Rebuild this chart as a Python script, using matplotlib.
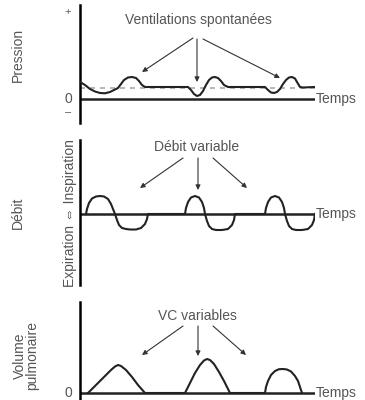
import matplotlib
matplotlib.use('Agg')
import matplotlib.pyplot as plt

plt.rcParams['font.family'] = ['Liberation Sans', 'DejaVu Sans']

# courbe de pression (temps, pression) - unites arbitraires
pression_t = [0, 5, 10, 15, 20, 25, 30, 34, 38, 41, 44, 48, 52, 56, 59, 62, 65, 70,
              108, 111, 114, 117, 120, 123, 126, 129, 132, 135, 138, 141, 144, 148, 152,
              185, 188, 191, 194, 197, 200, 203, 206, 209, 212, 215, 217, 220, 223, 235]
pression_v = [17, 14, 10, 7.5, 6, 5.7, 7, 9, 11, 15, 19, 21.5, 22, 21, 18, 14, 12, 12,
              12, 9, 5, 3, 4, 8, 14, 19, 21.5, 22, 21, 18, 14, 12, 12,
              12, 9, 6.5, 6, 7, 10, 15, 19, 21.5, 22, 20.5, 17, 12, 11.5, 12]
pression_ref = 11  # ligne pointillee grise

# courbe de debit
debit_t = [6, 7, 9, 12, 16, 20, 24, 28, 31, 33, 35, 37, 39, 42, 46, 50, 56, 61, 65, 67, 68,
           105, 106, 108, 111, 115, 119, 122, 124, 125, 127, 129, 132, 136, 142, 148, 152, 154, 155,
           185, 186, 188, 191, 195, 199, 202, 204, 205, 207, 209, 212, 216, 222, 228, 232, 234, 235]
debit_v = [0, 5, 11, 15.5, 17.5, 18, 17.5, 15, 10, 5, 0, -6, -11, -14, -15, -15.5, -15.5, -14, -10, -5, 0,
           0, 6, 12, 16.5, 18, 16.5, 12, 6, 0, -7, -12, -15, -16, -16, -15, -11, -6, 0,
           0, 6, 12, 16.5, 18, 16.5, 12, 6, 0, -7, -12, -15, -16, -16, -15, -11, -6, 0]

# courbe de volume pulmonaire
volume_t = [8, 16, 24, 31, 35, 38, 41, 46, 52, 58, 65,
            105, 110, 115, 120, 124, 127, 130, 134, 139, 144, 150,
            185, 186, 188, 191, 195, 199, 203, 207, 211, 215, 218, 220, 222]
volume_v = [0, 8, 16, 23, 26.5, 28, 27, 23, 16, 8, 0,
            0, 10, 20, 28, 32.5, 34, 33, 29, 21, 12, 0,
            0, 6, 12, 18, 22, 23.8, 24, 23.5, 21.5, 17, 12, 6, 0]

# titres et fleches (depart commun, trois cibles)
titres = ['Ventilations spontanées', 'Débit variable', 'VC variables']
titre_pos = [(118, 79), (117, 67), (117, 77)]
fleche_depart = [[(113, 61), (117, 60), (123, 60)],
                 [(103, 56), (118, 56), (133, 56)],
                 [(103, 67), (118, 67), (133, 67)]]
fleche_cible = [[(62, 27), (117, 17), (200, 21)],
                [(60, 26), (118, 24), (167, 26)],
                [(62, 38), (118, 37), (166, 38)]]

W, H = 365, 400
fig = plt.figure(figsize=(3.65, 4.0), dpi=100)

# positions des panneaux en pixels (haut, bas) et limites y
panneaux = [(5, 123, (-24, 94)), (140, 285, (-71, 74)), (302, 400, (-7, 91))]
axes = []
for haut, bas, ylim in panneaux:
    ax = fig.add_axes([80 / W, 1 - bas / H, 235 / W, (bas - haut) / H])
    ax.set_xlim(0, 235)
    ax.set_ylim(*ylim)
    for s in ['top', 'right', 'bottom']:
        ax.spines[s].set_visible(False)
    ax.spines['left'].set_linewidth(1.8)
    ax.set_xticks([])
    ax.set_yticks([])
    ax.patch.set_alpha(0)
    ax.axhline(0, color='#222', lw=1.8, zorder=2)
    ax.text(236, 0, 'Temps', ha='left', va='center', fontsize=10, color='#555', clip_on=False)
    axes.append(ax)

ax1, ax2, ax3 = axes

ax1.axhline(pression_ref, color='#aaa', lw=1.2, ls=(0, (3, 3)), zorder=1)
ax1.plot(pression_t, pression_v, color='#222', lw=1.5, zorder=3)
ax1.text(-12, 87, '+', ha='center', va='center', fontsize=8, color='#555', clip_on=False)
ax1.text(-12, 0, '0', ha='center', va='center', fontsize=10, color='#555', clip_on=False)
ax1.text(-12, -13, '–', ha='center', va='center', fontsize=8, color='#555', clip_on=False)

ax2.plot(debit_t, debit_v, color='#222', lw=1.5, zorder=3)

ax3.plot(volume_t, volume_v, color='#222', lw=1.5, zorder=3)
ax3.text(-12, 0, '0', ha='center', va='center', fontsize=10, color='#555', clip_on=False)

for ax, titre, pos, deps, cibles in zip(axes, titres, titre_pos, fleche_depart, fleche_cible):
    ax.text(pos[0], pos[1], titre, ha='center', va='center', fontsize=10, color='#555')
    for d, c in zip(deps, cibles):
        ax.annotate('', xy=c, xytext=d,
                    arrowprops=dict(arrowstyle='-|>', lw=0.8, color='#333',
                                    mutation_scale=7, shrinkA=0, shrinkB=0))

# libelles des axes verticaux
fig.text(18 / W, 1 - 55 / H, 'Pression', rotation=90, ha='center', va='center', fontsize=10, color='#555')
fig.text(18 / W, 1 - 213 / H, 'Débit', rotation=90, ha='center', va='center', fontsize=10, color='#555')
fig.text(70 / W, 1 - 213 / H, 'Expiration ⇔ Inspiration', rotation=90, ha='center', va='center',
         fontsize=10, color='#555')
fig.text(26 / W, 1 - 356 / H, 'Volume\npulmonaire', rotation=90, ha='center', va='center',
         fontsize=10, color='#555', linespacing=0.85)

fig.savefig('out.png', dpi=100)
